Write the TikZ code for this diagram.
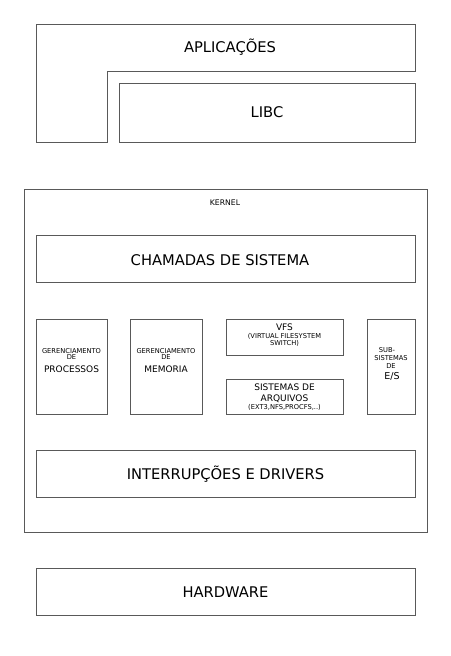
\documentclass[tikz,border=0pt]{standalone}
\usepackage{fontspec}
\setmainfont{DejaVu Sans}
\usepackage{tikz}
\usetikzlibrary{positioning,calc}

\newcommand{\bigsz}{\fontsize{9}{9}\selectfont}
\newcommand{\smallsz}{\fontsize{6.7}{7}\selectfont}

\tikzset{
  layer/.style={draw=black!65, line width=0.9pt},
  bigtxt/.style={font=\fontsize{14.7}{16}\selectfont, inner sep=0pt},
  stack/.style={align=center, inner sep=0pt, font=\fontsize{6.7}{#1}\selectfont},
  stack/.default=7
}

\begin{document}
\begin{tikzpicture}[x=1pt,y=-1pt]
    \useasboundingbox (0,0) rectangle (450,656);

    % user space
    \draw [layer]
      (36,24) -- (415,24) -- (415,71) -- (107,71) -- (107,142) -- (36,142) -- cycle;
    \node [bigtxt] (apps) at (230,47) {APLICAÇÕES};
    \draw [layer] (119,83) rectangle (415,142);
    \node [bigtxt] (libc) at (267,112) {LIBC};

    % kernel
    \draw [layer] (24,189) rectangle (427,532);
    \node [inner sep=0pt, font=\fontsize{7.7}{8}\selectfont] (kernel) at (225,203) {KERNEL};

    \draw [layer] (36,235) rectangle (415,282);
    \node [bigtxt] (syscalls) at (220,260) {CHAMADAS DE SISTEMA};

    % subsystems
    \draw [layer] (36,319) rectangle (107,414);
    \node [stack=6.6] (procs) at (71.5,360.5)
      {\smallsz GERENCIAMENTO\\
       \smallsz DE\\[5.3pt]
       \bigsz PROCESSOS};
    \draw [layer] (130,319) rectangle (202,414);
    \node [stack=6.6] (mem) at (166,360.5)
      {\smallsz GERENCIAMENTO\\
       \smallsz DE\\[5.3pt]
       \bigsz MEMORIA};

    \draw [layer] (226,319) rectangle (343,355);
    \node [stack=7] (vfs) at (284.5,335)
      {\bigsz VFS\\[1.15pt]
       \smallsz (VIRTUAL FILESYSTEM\\
       \smallsz SWITCH)};
    \draw [layer] (226,379) rectangle (343,414);
    \node [stack=8] (fs) at (284.5,397)
      {\bigsz SISTEMAS DE\\[3pt]
       \bigsz ARQUIVOS\\[0.15pt]
       \smallsz (EXT3,NFS,PROCFS,..)};

    \draw [layer] (367,319) rectangle (415,414);
    \node [stack=7] (io) at (391,364)
      {\smallsz SUB-\hspace*{8pt}\\[1.3pt]
       \smallsz SISTEMAS\\[0.2pt]
       \smallsz DE\hspace*{12pt}\\[3.35pt]
       \fontsize{9.5}{9.5}\selectfont\hspace*{2pt}E/S};

    \draw [layer] (36,450) rectangle (415,497);
    \node [bigtxt] (drivers) at (225.5,474) {INTERRUPÇÕES E DRIVERS};

    % hardware
    \draw [layer] (36,568) rectangle (415,615);
    \node [bigtxt] (hw) at (225.5,592) {HARDWARE};
\end{tikzpicture}
\end{document}
